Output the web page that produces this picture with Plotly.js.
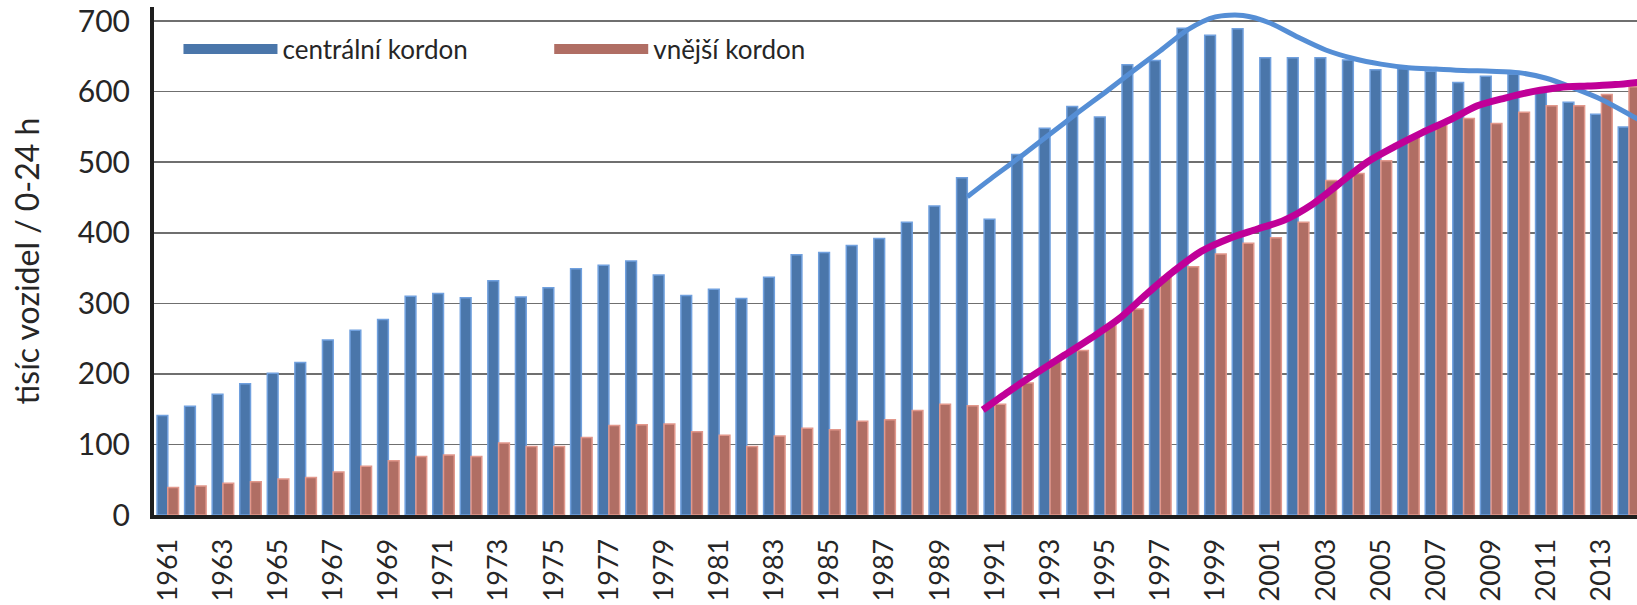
<!DOCTYPE html>
<html>
<head>
<meta charset="utf-8">
<script src="https://cdn.plot.ly/plotly-3.0.1.min.js"></script>
<style>
  html, body { margin: 0; padding: 0; background: #ffffff; }
  #chart { width: 1637px; height: 605px; }
</style>
</head>
<body>
<div id="chart"></div>
<script>
// ---- data ----
const years = [1961,1962,1963,1964,1965,1966,1967,1968,1969,1970,
               1971,1972,1973,1974,1975,1976,1977,1978,1979,1980,
               1981,1982,1983,1984,1985,1986,1987,1988,1989,1990,
               1991,1992,1993,1994,1995,1996,1997,1998,1999,2000,
               2001,2002,2003,2004,2005,2006,2007,2008,2009,2010,
               2011,2012,2013,2014];

const centralCordon = [141,154,171,186,201,216,248,262,277,310,
                       314,308,332,309,322,349,354,360,340,311,
                       320,307,337,369,372,382,392,415,438,478,
                       419,511,548,579,564,638,644,690,680,689,
                       648,648,648,645,631,633,629,613,622,625,
                       601,585,568,550];

const outerCordon = [39,41,45,47,51,53,61,69,77,83,
                     85,83,102,97,97,110,127,128,129,118,
                     113,97,112,123,121,133,135,148,157,155,
                     157,187,220,233,269,292,337,352,370,385,
                     393,415,474,484,502,537,553,562,555,571,
                     580,580,596,607];

// trend curves
const trendCentralX = [1990,1991,1992,1993,1994,1995,1996,1997,1998,1999,2000,
                       2001,2002,2003,2004,2005,2006,2007,2008,2009,2010,
                       2011,2012,2013,2014,2014.5];
const trendCentralY = [451,481,510,540,570,599,629,658,688,706,708,
                       697,677,659,647,639,634,632,630,629,627,
                       619,605,589,568,557];

const trendOuterX = [1990.56,1991.5,1992.5,1993.5,1994.5,1995.5,1996.5,1997.5,1998.5,1999.5,
                     2000.5,2001.5,2002.5,2003.5,2004.5,2005.5,2006.5,2007.5,2008.5,2009.5,
                     2010.5,2011.5,2012.5,2013.5,2014.5];
const trendOuterY = [149,175,201,226,251,278,313,346,374,392,
                     405,418,440,470,500,522,542,560,580,591,
                     600,606,608,610,614];

const tickYears = [1961,1963,1965,1967,1969,1971,1973,1975,1977,1979,1981,1983,1985,1987,
                   1989,1991,1993,1995,1997,1999,2001,2003,2005,2007,2009,2011,2013];
const tickLabels = tickYears.map(String);

const seriesNames = ['centrální kordon', 'vnější kordon'];
const yTitle = 'tisíc vozidel / 0-24 h';

// ---- styles ----
const blueFill = 'rgb(74,118,170)';
const blueEdge = 'rgb(112,160,222)';
const redFill = 'rgb(176,110,100)';
const redEdge = 'rgb(226,152,140)';
const FONT = 'Lato, "Open Sans", "Noto Sans", sans-serif';

const traces = [
  {
    type: 'bar', x: years, y: centralCordon, name: seriesNames[0],
    marker: { color: blueFill, line: { color: blueEdge, width: 1.5 } },
    showlegend: false, hoverinfo: 'x+y'
  },
  {
    type: 'bar', x: years, y: outerCordon, name: seriesNames[1],
    marker: { color: redFill, line: { color: redEdge, width: 1.5 } },
    showlegend: false, hoverinfo: 'x+y'
  },
  {
    type: 'scatter', mode: 'lines', x: trendCentralX, y: trendCentralY,
    line: { color: 'rgb(85,142,213)', width: 5, shape: 'spline', smoothing: 0.8 },
    showlegend: false, hoverinfo: 'skip'
  },
  {
    type: 'scatter', mode: 'lines', x: trendOuterX, y: trendOuterY,
    line: { color: 'rgb(192,0,152)', width: 7, shape: 'spline', smoothing: 0.8 },
    showlegend: false, hoverinfo: 'skip'
  },
  // legend swatches
  {
    type: 'scatter', mode: 'lines', x: [null], y: [null], name: seriesNames[0],
    line: { color: blueFill, width: 13 }, legend: 'legend', showlegend: true
  },
  {
    type: 'scatter', mode: 'lines', x: [null], y: [null], name: seriesNames[1],
    line: { color: redFill, width: 13 }, legend: 'legend2', showlegend: true
  }
];

const layout = {
  width: 1637, height: 605,
  margin: { l: 154, r: 0, t: 7, b: 90 },
  paper_bgcolor: '#ffffff', plot_bgcolor: '#ffffff',
  font: { family: FONT, color: '#262626' },
  barmode: 'group', bargap: 0.22, bargroupgap: 0,
  xaxis: {
    type: 'linear', range: [1960.5, 2014.29],
    tickmode: 'array', tickvals: tickYears, ticktext: tickLabels,
    tickangle: -90, tickfont: { size: 27, family: FONT, color: '#262626' },
    ticks: '', ticklabelstandoff: 9,
    showgrid: false, zeroline: false,
    showline: true, linecolor: '#1e1e1e', linewidth: 4
  },
  yaxis: {
    range: [0, 720], tick0: 0, dtick: 100,
    tickfont: { size: 30, family: FONT, color: '#262626' },
    ticks: '', ticklabelstandoff: 14,
    showgrid: true, gridcolor: '#6f6f6f', gridwidth: 1.5,
    zeroline: false,
    showline: true, linecolor: '#1e1e1e', linewidth: 4,
    title: { text: yTitle, font: { size: 32, family: FONT, color: '#262626' }, standoff: 30 }
  },
  legend: {
    x: 0.0165, y: 0.917, xanchor: 'left', yanchor: 'middle',
    orientation: 'h', itemwidth: 94, bgcolor: 'rgba(0,0,0,0)',
    font: { size: 26, family: FONT, color: '#262626' }
  },
  legend2: {
    x: 0.2665, y: 0.917, xanchor: 'left', yanchor: 'middle',
    orientation: 'h', itemwidth: 94, bgcolor: 'rgba(0,0,0,0)',
    font: { size: 26, family: FONT, color: '#262626' }
  },
  showlegend: true
};

Plotly.newPlot('chart', traces, layout, { displayModeBar: false, staticPlot: true });
</script>
</body>
</html>
